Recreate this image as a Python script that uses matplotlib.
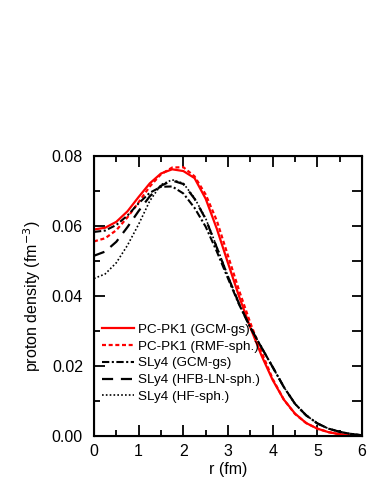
import matplotlib
matplotlib.use("Agg")
import matplotlib.pyplot as plt
from matplotlib.ticker import MultipleLocator

plt.rcParams['font.family'] = ['Liberation Sans', 'DejaVu Sans']

r = [0.0, 0.25, 0.5, 0.75, 1.0, 1.25, 1.5, 1.75, 2.0, 2.25, 2.5, 2.75, 3.0,
     3.25, 3.5, 3.75, 4.0, 4.25, 4.5, 4.75, 5.0, 5.25, 5.5, 5.75, 6.0]

pcpk1_gcm = [0.0590, 0.0595, 0.0612, 0.0642, 0.0683, 0.0722, 0.0750, 0.0762, 0.0757,
             0.0737, 0.0678, 0.0592, 0.0494, 0.0398, 0.0310, 0.0230, 0.0160, 0.0104,
             0.0064, 0.0037, 0.0021, 0.0011, 0.0005, 0.0002, 0.0000]
pcpk1_rmf = [0.0556, 0.0565, 0.0588, 0.0625, 0.0668, 0.0713, 0.0748, 0.0767, 0.0768,
             0.0742, 0.0690, 0.0615, 0.0515, 0.0415, 0.0323, 0.0240, 0.0163, 0.0104,
             0.0063, 0.0037, 0.0021, 0.0011, 0.0005, 0.0002, 0.0000]
sly4_gcm = [0.0583, 0.0587, 0.0603, 0.0630, 0.0665, 0.0695, 0.0712, 0.0713, 0.0693,
            0.0652, 0.0598, 0.0527, 0.0450, 0.0375, 0.0310, 0.0253, 0.0197, 0.0140,
            0.0092, 0.0059, 0.0036, 0.0021, 0.0012, 0.0006, 0.0002]
sly4_hfb = [0.0515, 0.0527, 0.0555, 0.0597, 0.0643, 0.0685, 0.0715, 0.0730, 0.0720,
            0.0678, 0.0620, 0.0538, 0.0455, 0.0377, 0.0310, 0.0253, 0.0197, 0.0140,
            0.0092, 0.0059, 0.0036, 0.0021, 0.0012, 0.0006, 0.0002]
sly4_hf = [0.0450, 0.0463, 0.0495, 0.0545, 0.0605, 0.0672, 0.0718, 0.0732, 0.0722,
           0.0680, 0.0622, 0.0540, 0.0457, 0.0378, 0.0310, 0.0253, 0.0197, 0.0140,
           0.0092, 0.0059, 0.0036, 0.0021, 0.0012, 0.0006, 0.0002]

labels = ["PC-PK1 (GCM-gs)", "PC-PK1 (RMF-sph.)", "SLy4 (GCM-gs)",
          "SLy4 (HFB-LN-sph.)", "SLy4 (HF-sph.)"]

fig = plt.figure(figsize=(3.82, 4.94), dpi=100)
ax = fig.add_axes([94/382, 58/494, 268/382, 280/494])

ax.plot(r, pcpk1_gcm, color='red', lw=1.6, label=labels[0])
ax.plot(r, pcpk1_rmf, color='red', lw=1.6, dashes=(1.8, 1.2), label=labels[1])
ax.plot(r, sly4_gcm, color='black', lw=1.5, dashes=(3.5, 1.2, 1.0, 1.2), label=labels[2])
ax.plot(r, sly4_hfb, color='black', lw=1.6, dashes=(5, 3.5), label=labels[3])
ax.plot(r, sly4_hf, color='black', lw=1.2, dashes=(1, 1.3), label=labels[4])

ax.set_xlim(0, 6)
ax.set_ylim(0, 0.08)
ax.xaxis.set_major_locator(MultipleLocator(1))
ax.xaxis.set_minor_locator(MultipleLocator(0.5))
ax.yaxis.set_major_locator(MultipleLocator(0.02))
ax.yaxis.set_minor_locator(MultipleLocator(0.01))
ax.yaxis.set_major_formatter(matplotlib.ticker.FormatStrFormatter('%.2f'))
ax.tick_params(which='both', direction='in', top=True, right=False, labelsize=11.5,
               width=1.3)
ax.tick_params(which='major', length=8)
ax.tick_params(which='minor', length=4)
ax.tick_params(axis='y', pad=8)
ax.tick_params(axis='x', pad=6)

ax2 = ax.twinx()
ax2.set_ylim(0, 0.08)
ax2.yaxis.set_major_locator(MultipleLocator(0.01))
ax2.tick_params(direction='in', length=7, width=1.3, labelright=False)

for s in ax.spines.values():
    s.set_linewidth(1.5)

ax.set_xlabel("r (fm)", fontsize=11.5, labelpad=2)
ax.set_ylabel("proton density (fm$^{-3}$)", fontsize=11.5, labelpad=6)

ax.legend(loc='center left', bbox_to_anchor=(0.03, 0.26), frameon=False,
          fontsize=9.7, handlelength=2.4, handletextpad=0.3, labelspacing=0.33,
          borderpad=0, borderaxespad=0)

fig.savefig("out.png", dpi=100)
